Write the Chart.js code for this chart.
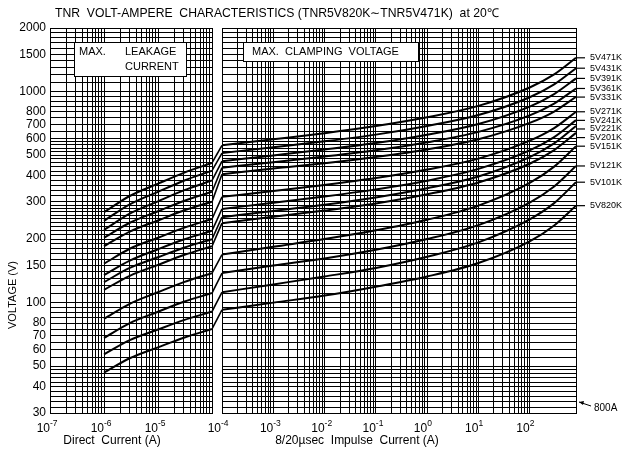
<!DOCTYPE html>
<html>
<head>
<meta charset="utf-8">
<script src="https://cdn.jsdelivr.net/npm/chart.js@4.4.1/dist/chart.umd.min.js"></script>
<style>
  html, body { margin:0; padding:0; background:#fff; }
</style>
</head>
<body>
<canvas id="chart" width="629" height="450"></canvas>
<script>
// ══════════════════════════════════════════════════════════════════════════════
//  DATA
// ══════════════════════════════════════════════════════════════════════════════
const SERIES = ['5V471K','5V431K','5V391K','5V361K','5V331K','5V271K','5V241K','5V221K','5V201K','5V151K','5V121K','5V101K','5V820K'];

// max. leakage current (DC), A
const DC_CURRENT = [1e-6, 3e-6, 1e-5, 3e-5, 1e-4];
const DC_VOLTAGE = [
  [268, 320, 366, 412, 459],
  [244, 292, 335, 378, 422],
  [221, 264, 302, 340, 379],
  [203, 239, 271, 303, 335],
  [185, 217, 245, 273, 301],
  [153, 180, 203, 226, 249],
  [135, 158, 179, 199, 219],
  [125, 146, 164, 182, 200],
  [115, 134, 151, 168, 185],
  [83.8, 98.7, 112, 125, 138],
  [68, 80, 90.5, 101, 111],
  [56.9, 66.4, 74.6, 82.6, 90.7],
  [46.6, 54.5, 61.4, 68.2, 75],
];

// max. clamping voltage (8/20us impulse), A
const IMP_CURRENT = [1e-4, 1e-3, 1e-2, 1e-1, 1, 10, 100, 300, 800];
const IMP_VOLTAGE = [
  [556, 594, 635, 686, 755, 855, 1045, 1205, 1445],
  [511, 545, 581, 625, 687, 774, 940, 1081, 1290],
  [468, 498, 531, 570, 624, 702, 849, 973, 1154],
  [436, 463, 492, 527, 575, 644, 771, 877, 1034],
  [406, 432, 457, 490, 532, 594, 710, 804, 944],
  [317, 338, 361, 389, 427, 481, 585, 671, 802],
  [278, 297, 318, 344, 378, 430, 526, 608, 732],
  [254, 272, 291, 315, 348, 396, 489, 568, 686],
  [238, 255, 273, 295, 326, 371, 455, 528, 637],
  [169, 184, 200, 220, 247, 288, 369, 441, 551],
  [138, 150, 162, 178, 200, 233, 298, 355, 444],
  [112, 122, 133, 146, 165, 193, 248, 296, 372],
  [92.4, 100, 108, 119, 133, 154, 195, 232, 288],
];

const Y_LABELS   = [30, 40, 50, 60, 70, 80, 100, 150, 200, 300, 400, 500, 600, 700, 800, 1000, 1500, 2000];
const DC_EXP     = [-7, -6, -5];
const JOIN_EXP   = -4;
const IMP_EXP    = [-3, -2, -1, 0, 1, 2];

// ══════════════════════════════════════════════════════════════════════════════
//  HELPERS
// ══════════════════════════════════════════════════════════════════════════════
const FONT = "'Liberation Sans', Arial, Helvetica, sans-serif";
const GRID = { color:'#000', lineWidth:1, drawTicks:false };

function logGrid(e0, e1, max) {
  const out = [];
  for (let e = e0; e < e1; e++)
    for (let m = 1; m < 10; m++) out.push(+(m * Math.pow(10, e)).toPrecision(3));
  out.push(+Math.pow(10, e1).toPrecision(3));
  return out.filter(v => max == null || v <= max).concat(max != null ? [max] : []);
}

function yGrid() {
  const out = [];
  const steps = [[30, 50, 2], [50, 100, 5], [100, 300, 10], [300, 600, 20], [600, 1000, 50], [1000, 2000, 100]];
  steps.forEach(([a, b, s]) => { for (let v = a; v < b; v += s) out.push(v); });
  out.push(2000);
  return out;
}

const line = { borderColor:'#000', borderWidth:2, pointRadius:0, fill:false, cubicInterpolationMode:'monotone' };

const datasets = [];
SERIES.forEach((name, i) => {
  datasets.push({ ...line, label:name + ' dc', xAxisID:'xdc', yAxisID:'y',
    data: DC_CURRENT.map((c, j) => ({ x:c, y:DC_VOLTAGE[i][j] })) });
  datasets.push({ ...line, label:name + ' link', xAxisID:'xgap', yAxisID:'y', borderWidth:1.6,
    data: [{ x:0, y:DC_VOLTAGE[i][DC_VOLTAGE[i].length - 1] }, { x:1, y:IMP_VOLTAGE[i][0] }] });
  datasets.push({ ...line, label:name, xAxisID:'ximp', yAxisID:'y', imp:true,
    data: IMP_CURRENT.map((c, j) => ({ x:c, y:IMP_VOLTAGE[i][j] })) });
});

// ══════════════════════════════════════════════════════════════════════════════
//  DECORATION PLUGIN
// ══════════════════════════════════════════════════════════════════════════════
function pow10(ctx, x, e) {
  ctx.font = '12px ' + FONT;
  ctx.textAlign = 'right'; ctx.textBaseline = 'alphabetic';
  ctx.fillText('10', x, 432);
  ctx.font = '8.5px ' + FONT;
  ctx.textAlign = 'left';
  ctx.fillText(String(e), x, 426);
}

function boxText(ctx, x, y, w, h, lines) {
  ctx.fillStyle = '#fff'; ctx.fillRect(x, y, w, h);
  ctx.strokeStyle = '#000'; ctx.lineWidth = 1; ctx.strokeRect(x + 0.5, y + 0.5, w, h);
  ctx.fillStyle = '#000'; ctx.font = '11px ' + FONT;
  ctx.textAlign = 'left'; ctx.textBaseline = 'middle';
  lines.forEach(([t, tx, ty]) => ctx.fillText(t, tx, ty));
}

const decor = {
  id: 'decor',
  beforeDatasetsDraw(chart) {
    const { ctx, chartArea:a } = chart;
    const { xdc, ximp } = chart.scales;
    ctx.save();
    // break between the two panels
    ctx.fillStyle = '#fff';
    ctx.fillRect(Math.round(xdc.right) + 1, a.top - 1, Math.round(ximp.left) - Math.round(xdc.right) - 1, a.bottom - a.top + 2);
    ctx.strokeStyle = '#000'; ctx.lineWidth = 1;
    ctx.strokeRect(Math.round(xdc.left) + 0.5, Math.round(a.top) + 0.5, Math.round(xdc.right - xdc.left), Math.round(a.bottom - a.top));
    ctx.strokeRect(Math.round(ximp.left) + 0.5, Math.round(a.top) + 0.5, Math.round(ximp.right - ximp.left), Math.round(a.bottom - a.top));
    ctx.restore();
  },
  afterDraw(chart) {
    const { ctx, chartArea:a } = chart;
    const { xdc, ximp } = chart.scales;
    ctx.save();
    ctx.fillStyle = '#000'; ctx.strokeStyle = '#000';

    // title
    ctx.font = '12.2px ' + FONT; ctx.textAlign = 'left'; ctx.textBaseline = 'middle';
    ctx.fillText('TNR  VOLT-AMPERE  CHARACTERISTICS (TNR5V820K\u223CTNR5V471K)  at 20\u2103', 55, 14);

    // annotation boxes
    boxText(ctx, 74, 42, 112, 34, [['MAX.', 79, 52], ['LEAKAGE', 125, 52], ['CURRENT', 125, 67]]);
    boxText(ctx, 243, 42, 175, 19, [['MAX.  CLAMPING  VOLTAGE', 252, 52]]);

    // x tick labels
    DC_EXP.forEach(e => pow10(ctx, xdc.getPixelForValue(Math.pow(10, e)), e));
    pow10(ctx, (xdc.right + ximp.left) / 2 + 4, JOIN_EXP);
    IMP_EXP.forEach(e => pow10(ctx, ximp.getPixelForValue(Math.pow(10, e)), e));

    // axis titles
    ctx.font = '12px ' + FONT; ctx.textAlign = 'center'; ctx.textBaseline = 'alphabetic';
    ctx.fillText('Direct  Current (A)', 112, 444);
    ctx.fillText('8/20\u00B5sec  Impulse  Current (A)', 357, 444);
    ctx.save();
    ctx.translate(13, 295); ctx.rotate(-Math.PI / 2);
    ctx.font = '11px ' + FONT; ctx.textBaseline = 'middle';
    ctx.fillText('VOLTAGE (V)', 0, 0);
    ctx.restore();

    // series labels at 800 A
    const ends = [];
    chart.data.datasets.forEach((ds, i) => {
      if (!ds.imp) return;
      const pts = chart.getDatasetMeta(i).data;
      ends.push({ name: ds.label, y: pts[pts.length - 1].y });
    });
    ends.sort((p, q) => p.y - q.y);
    for (let k = 1; k < ends.length; k++)
      if (ends[k].y - ends[k - 1].y < 8.6) ends[k].y = ends[k - 1].y + 8.6;
    ctx.font = '9px ' + FONT; ctx.textAlign = 'left'; ctx.textBaseline = 'middle'; ctx.lineWidth = 1.2;
    ends.forEach(p => {
      ctx.beginPath(); ctx.moveTo(a.right + 1, p.y); ctx.lineTo(a.right + 9, p.y); ctx.stroke();
      ctx.fillText(p.name, a.right + 14, p.y);
    });

    // 800 A marker
    const tx = a.right + 3, ty = a.bottom - 11;
    ctx.lineWidth = 1;
    ctx.beginPath(); ctx.moveTo(tx, ty); ctx.lineTo(tx + 12, ty + 4); ctx.stroke();
    ctx.beginPath(); ctx.moveTo(tx, ty); ctx.lineTo(tx + 5, ty - 1); ctx.lineTo(tx + 4, ty + 3); ctx.closePath(); ctx.fill();
    ctx.font = '10px ' + FONT; ctx.textBaseline = 'middle';
    ctx.fillText('800A', tx + 15, ty + 6);
    ctx.restore();
  }
};

// ══════════════════════════════════════════════════════════════════════════════
//  CHART
// ══════════════════════════════════════════════════════════════════════════════
new Chart(document.getElementById('chart').getContext('2d'), {
  type: 'line',
  data: { datasets },
  plugins: [decor],
  options: {
    responsive: false, animation: false, devicePixelRatio: 1,
    layout: { padding: { left:0, right:53, top:28, bottom:37 } },
    plugins: { legend:{ display:false }, tooltip:{ enabled:false }, title:{ display:false } },
    scales: {
      xdc: {
        type:'logarithmic', position:'bottom', stack:'cur', stackWeight:162,
        min:1e-7, max:1e-4, grid:GRID, border:{ display:false }, ticks:{ display:false },
        afterBuildTicks: s => { s.ticks = logGrid(-7, -4).map(v => ({ value:v })); },
      },
      xgap: {
        type:'linear', position:'bottom', stack:'cur', stackWeight:10,
        min:0, max:1, display:false,
      },
      ximp: {
        type:'logarithmic', position:'bottom', stack:'cur', stackWeight:354,
        min:1e-4, max:800, grid:GRID, border:{ display:false }, ticks:{ display:false },
        afterBuildTicks: s => { s.ticks = logGrid(-4, 2, 800).map(v => ({ value:v })); },
      },
      y: {
        type:'logarithmic', position:'left', min:30, max:2000,
        grid:GRID, border:{ display:false },
        afterBuildTicks: s => { s.ticks = yGrid().map(v => ({ value:v })); },
        afterFit: s => { s.width = 50; },
        ticks: {
          autoSkip:false, color:'#000', padding:4, font:{ family:FONT, size:12 },
          callback: v => Y_LABELS.includes(v) ? String(v) : '',
        },
      },
    },
  },
});
</script>
</body>
</html>
